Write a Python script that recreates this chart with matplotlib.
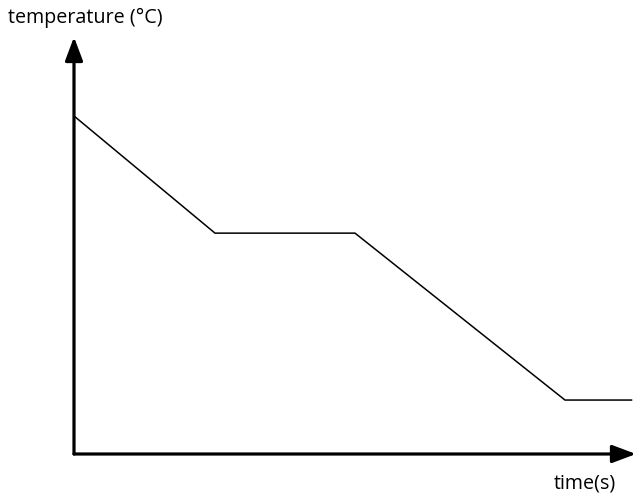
import matplotlib.pyplot as plt

time_s = [0, 2, 4, 7, 7.95]
temperature = [6.0, 3.93, 3.93, 0.96, 0.96]

W, H = 640, 502
fig = plt.figure(figsize=(W / 100, H / 100), dpi=100)
ax = fig.add_axes([74 / W, (H - 455) / H, (636 - 74) / W, (455 - 38) / H])
ax.set_xlim(-1 / 70, 561 / 70)
ax.set_ylim(0, 417 / 56.2)
ax.axis("off")

ax.plot(time_s, temperature, color="black", lw=1.1, solid_joinstyle="miter")

# axis arrows
arrow = dict(arrowstyle="-|>,head_length=0.8,head_width=0.3", lw=2.3, color="black",
             shrinkA=0, shrinkB=0, mutation_scale=18)
ax.annotate("", xy=(1, 0), xytext=(0, 0), xycoords="axes fraction", arrowprops=arrow)
ax.annotate("", xy=(0, 1), xytext=(0, 0), xycoords="axes fraction", arrowprops=arrow)

fig.text(8 / W, 1 - 18 / H, "temperature (°C)", fontsize=14.2, family="Open Sans",
         va="center", ha="left")
fig.text(585 / W, 1 - 484 / H, "time(s)", fontsize=14.2, family="Open Sans",
         va="center", ha="center")

fig.savefig("out.png", dpi=100)
